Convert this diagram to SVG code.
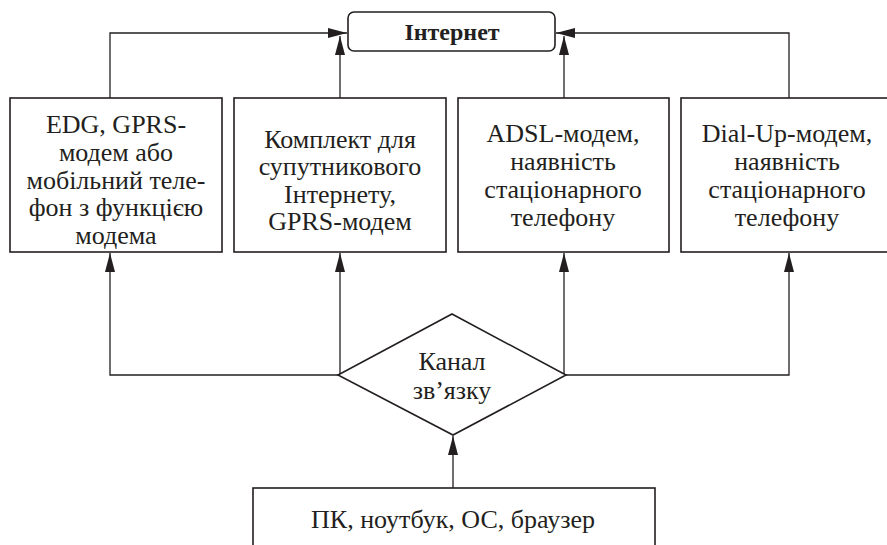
<svg xmlns="http://www.w3.org/2000/svg" width="887" height="545" viewBox="0 0 887 545">
<style>
.box{fill:#fff;stroke:#231f20;stroke-width:1.6}
.ln{fill:none;stroke:#231f20;stroke-width:1.3}
.t{font-family:"Liberation Serif","Times New Roman",serif;font-size:26px;fill:#231f20;text-anchor:middle}
.tb{font-family:"Liberation Serif","Times New Roman",serif;font-size:24px;font-weight:bold;fill:#231f20;text-anchor:middle}
</style>
<defs>
<marker id="ar" viewBox="0 0 19 10" refX="19" refY="5" markerWidth="19" markerHeight="10" markerUnits="userSpaceOnUse" orient="auto">
<path d="M0,0 L19,5 L0,10 Z" fill="#231f20"/>
</marker>
</defs>
<g id="connectors">
<path class="ln" d="M110,98 V33 H347" marker-end="url(#ar)"/>
<path class="ln" d="M340,98 V36" marker-end="url(#ar)"/>
<path class="ln" d="M564,98 V36" marker-end="url(#ar)"/>
<path class="ln" d="M789,98 V33 H556" marker-end="url(#ar)"/>
<path class="ln" d="M338,375 H110 V253" marker-end="url(#ar)"/>
<path class="ln" d="M340,375 V253" marker-end="url(#ar)"/>
<path class="ln" d="M566,375 H789 V253" marker-end="url(#ar)"/>
<path class="ln" d="M564,375 V253" marker-end="url(#ar)"/>
<path class="ln" d="M453,488 V436" marker-end="url(#ar)"/>
</g>
<g id="internet">
<rect class="box" x="348" y="12" width="207" height="39" rx="6"/>
<text class="tb" x="452" y="40">Інтернет</text>
</g>
<g id="edge">
<rect class="box" x="10" y="98" width="212" height="154"/>
<text class="t" x="116" y="133">EDG, GPRS-</text>
<text class="t" x="116" y="161">модем або</text>
<text class="t" x="116" y="189">мобільний теле-</text>
<text class="t" x="116" y="216">фон з функцією</text>
<text class="t" x="116" y="244">модема</text>
</g>
<g id="satellite">
<rect class="box" x="234" y="98" width="212" height="154"/>
<text class="t" x="340" y="148">Комплект для</text>
<text class="t" x="340" y="175">супутникового</text>
<text class="t" x="340" y="203">Інтернету,</text>
<text class="t" x="340" y="230">GPRS-модем</text>
</g>
<g id="adsl">
<rect class="box" x="458" y="98" width="211" height="154"/>
<text class="t" x="563" y="142">ADSL-модем,</text>
<text class="t" x="563" y="170">наявність</text>
<text class="t" x="563" y="198">стаціонарного</text>
<text class="t" x="563" y="226">телефону</text>
</g>
<g id="dialup">
<rect class="box" x="681" y="98" width="212" height="154"/>
<text class="t" x="787" y="142">Dial-Up-модем,</text>
<text class="t" x="787" y="170">наявність</text>
<text class="t" x="787" y="198">стаціонарного</text>
<text class="t" x="787" y="226">телефону</text>
</g>
<g id="channel">
<polygon class="box" points="452,314 566,375 453,435 338,375"/>
<text class="t" x="452" y="370">Канал</text>
<text class="t" x="452" y="399">зв’язку</text>
</g>
<g id="pc">
<rect class="box" x="253" y="488" width="402" height="70"/>
<text class="t" x="453" y="528">ПК, ноутбук, ОС, браузер</text>
</g>
</svg>
